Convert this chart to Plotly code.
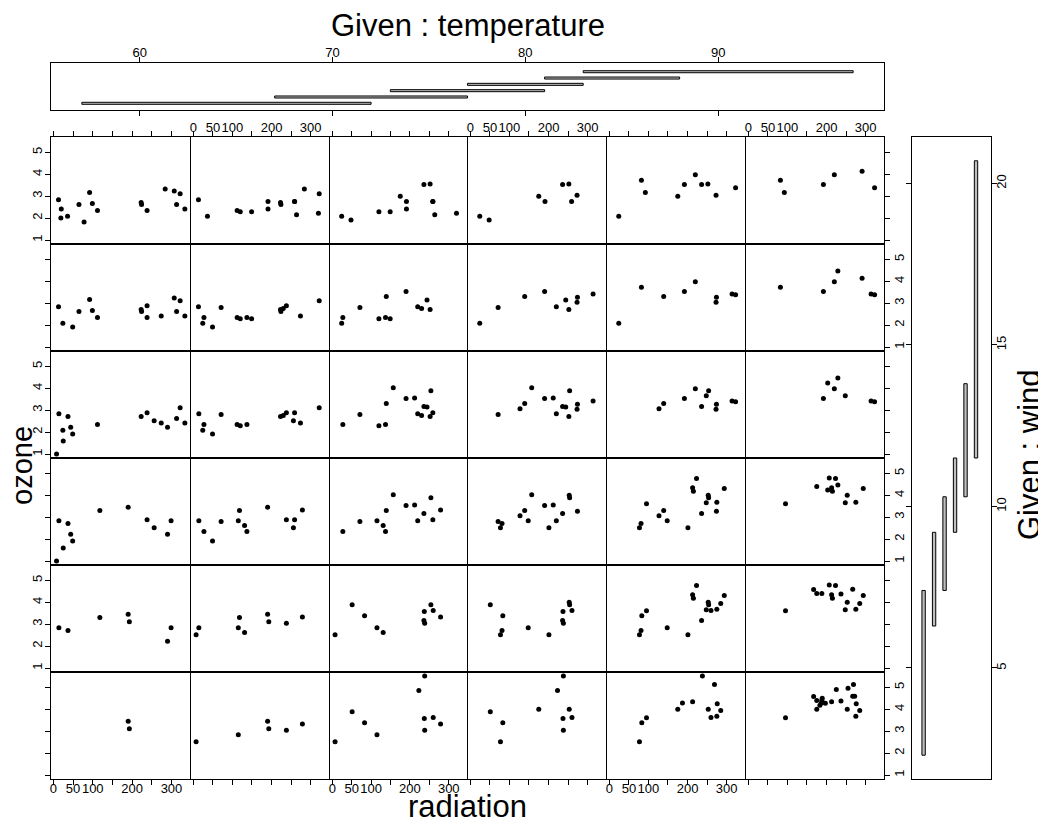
import plotly.graph_objects as go

# ---- data (environmental: radiation, cube-root ozone, temperature, wind) ----
radiation = [190, 118, 149, 313, 299, 99, 19, 256, 290, 274, 65, 334, 307, 78, 322, 44, 8, 320, 25, 92,
             13, 252, 223, 279, 127, 291, 323, 148, 191, 284, 37, 120, 137, 269, 248, 236, 175, 314, 276, 267,
             272, 175, 264, 175, 48, 260, 274, 285, 187, 220, 7, 294, 223, 81, 82, 213, 275, 253, 254, 83,
             24, 77, 255, 229, 207, 192, 273, 157, 71, 51, 115, 244, 190, 259, 36, 212, 238, 215, 203, 225,
             237, 188, 167, 197, 183, 189, 95, 92, 252, 220, 230, 259, 236, 259, 238, 24, 112, 237, 224, 27,
             238, 201, 238, 14, 139, 49, 20, 193, 191, 131, 223]
ozone = [3.45, 3.30, 2.29, 2.62, 2.84, 2.67, 2.00, 2.52, 2.22, 2.41, 2.62, 2.41, 3.24, 1.82, 3.11, 2.22, 1.00, 2.22, 1.59, 3.17,
         2.84, 3.56, 4.86, 3.33, 3.07, 4.14, 3.39, 2.84, 2.76, 3.33, 2.71, 2.29, 2.35, 5.13, 3.66, 3.17, 4.00, 3.42, 4.25, 4.59,
         4.59, 4.40, 2.15, 3.00, 1.91, 3.63, 3.27, 3.94, 4.29, 3.98, 2.52, 4.31, 4.76, 2.71, 3.73, 4.34, 3.68, 4.00, 3.89, 3.39,
         2.08, 2.52, 4.96, 4.47, 4.79, 3.53, 3.04, 4.02, 2.80, 3.89, 2.84, 3.14, 3.53, 2.76, 2.08, 3.56, 5.52, 4.18, 4.24, 4.90,
         4.38, 4.40, 4.58, 4.27, 4.18, 4.50, 3.61, 3.17, 2.71, 2.84, 2.76, 2.88, 3.53, 2.76, 3.04, 2.08, 2.35, 3.58, 2.62, 2.35,
         2.88, 2.52, 2.35, 2.84, 3.30, 1.91, 2.41, 3.11, 2.41, 2.62, 2.71]
temperature = [67, 72, 74, 62, 65, 59, 61, 69, 66, 68, 58, 64, 66, 57, 68, 62, 59, 73, 61, 61,
               67, 81, 79, 76, 82, 90, 87, 82, 77, 72, 65, 73, 76, 84, 85, 81, 83, 83, 88, 92,
               92, 89, 73, 81, 80, 81, 82, 84, 87, 85, 74, 86, 85, 82, 86, 88, 86, 83, 81, 81,
               81, 82, 89, 90, 90, 86, 82, 80, 77, 79, 76, 78, 78, 77, 72, 79, 81, 86, 97, 94,
               96, 94, 91, 92, 93, 93, 87, 84, 80, 78, 75, 73, 81, 76, 77, 71, 71, 78, 67, 76,
               68, 82, 64, 71, 81, 69, 63, 70, 75, 76, 68]
wind = [7.4, 8.0, 12.6, 11.5, 8.6, 13.8, 20.1, 9.7, 9.2, 10.9, 13.2, 11.5, 12.0, 18.4, 11.5, 9.7, 9.7, 16.6, 9.7, 12.0,
        12.0, 14.9, 5.7, 7.4, 9.7, 13.8, 11.5, 8.0, 14.9, 20.7, 9.2, 11.5, 10.3, 4.1, 9.2, 9.2, 4.6, 10.9, 5.1, 6.3,
        5.7, 7.4, 14.3, 14.9, 14.3, 6.9, 10.3, 6.3, 5.1, 11.5, 6.9, 8.6, 8.0, 8.6, 12.0, 7.4, 7.4, 7.4, 9.2, 6.9,
        13.8, 7.4, 4.0, 10.3, 8.0, 11.5, 11.5, 9.7, 10.3, 6.3, 7.4, 10.9, 10.3, 15.5, 14.3, 9.7, 3.4, 8.0, 9.7, 2.3,
        6.3, 6.3, 6.9, 5.1, 2.8, 4.6, 7.4, 15.5, 10.9, 10.3, 10.9, 9.7, 14.9, 15.5, 6.3, 10.9, 11.5, 6.9, 13.8, 10.3,
        10.3, 8.0, 12.6, 9.2, 10.3, 10.3, 16.6, 6.9, 14.3, 8.0, 11.5]

# given intervals (co.intervals, 6 intervals, overlap 0.5)
temp_lo = [57, 67, 73, 77, 81, 83]
temp_hi = [72, 77, 81, 83, 88, 97]
wind_lo = [2.3, 6.3, 7.4, 9.2, 10.3, 11.5]
wind_hi = [7.4, 9.2, 10.3, 11.5, 13.8, 20.7]

rad_ticks = [0, 50, 100, 150, 200, 250, 300]
rad_labels = ["0", "50", "100", "", "200", "", "300"]
oz_ticks = [1, 2, 3, 4, 5]
temp_ticks = [60, 70, 80, 90]
wind_ticks = [5, 10, 15, 20]

# ---- layout geometry (pixels in the 1046x824 window) ----
OFF = 8                       # default page body margin
W, H = 1046 - OFF, 824 - OFF  # figure size
FONT = "Liberation Sans, Arial, Helvetica, sans-serif"
COL_EDGES = [51, 190, 329, 467, 606, 745, 884]
ROW_EDGES = [137, 244, 351, 458, 565, 672, 779]


def px(x):
    return (x - OFF) / W


def py(y):
    return 1 - (y - OFF) / H


fig = go.Figure()
layout = dict(width=W, height=H, margin=dict(l=0, r=0, t=0, b=0, pad=0), autosize=False,
              paper_bgcolor="white", plot_bgcolor="white", showlegend=False,
              font=dict(family=FONT, size=13, color="black"))

tickfont = dict(family=FONT, size=13, color="black")
line_common = dict(showline=True, linecolor="black", linewidth=1, showgrid=False,
                   zeroline=False, fixedrange=True)

k = 0
for r in range(6):          # r = 0 is top row (highest wind interval)
    wi = 5 - r
    for c in range(6):      # c = 0 is leftmost column (lowest temperature)
        k += 1
        xs, ys = [], []
        for rad, oz, t, w in zip(radiation, ozone, temperature, wind):
            if temp_lo[c] <= t <= temp_hi[c] and wind_lo[wi] <= w <= wind_hi[wi]:
                xs.append(rad)
                ys.append(oz)
        fig.add_trace(go.Scatter(x=xs, y=ys, mode="markers", xaxis=f"x{k}", yaxis=f"y{k}",
                                 marker=dict(size=5, color="black"), hoverinfo="skip"))
        x0 = COL_EDGES[c] + (1 if c > 0 else 0)
        x1 = COL_EDGES[c + 1]
        y0 = ROW_EDGES[r]
        y1 = ROW_EDGES[r + 1]
        xa = dict(domain=[px(x0), px(x1)], range=[-6.08, 347.08], anchor=f"y{k}",
                  mirror=True, **line_common)
        ya = dict(domain=[py(y1), py(y0)], range=[0.819, 5.70], anchor=f"x{k}",
                  mirror=True, **line_common)
        if r == 5 or r == 0:
            xa.update(side="bottom" if r == 5 else "top", ticks="outside", ticklen=5,
                      tickcolor="black", tickvals=rad_ticks, ticktext=rad_labels, tickangle=0,
                      tickfont=tickfont, ticklabelstandoff=-8 if r == 5 else -6,
                      showticklabels=(c % 2 == 0) if r == 5 else (c % 2 == 1))
        else:
            xa.update(ticks="", showticklabels=False)
        if c == 0 or c == 5:
            ya.update(side="left" if c == 0 else "right", ticks="outside", ticklen=5,
                      tickcolor="black", tickvals=oz_ticks, tickangle=-90, tickfont=tickfont,
                      ticklabelstandoff=-2,
                      showticklabels=(r % 2 == 0) if c == 0 else (r % 2 == 1))
        else:
            ya.update(ticks="", showticklabels=False)
        layout[f"xaxis{k}"] = xa
        layout[f"yaxis{k}"] = ya

# ---- given: temperature panel (top) ----
k += 1
kt = k
fig.add_trace(go.Bar(orientation="h", y=list(range(1, 7)),
                     x=[hi - lo for lo, hi in zip(temp_lo, temp_hi)], base=temp_lo,
                     width=0.32, xaxis=f"x{kt}", yaxis=f"y{kt}",
                     marker=dict(color="#bebebe", line=dict(color="black", width=1)),
                     hoverinfo="skip"))
layout[f"xaxis{kt}"] = dict(domain=[px(51), px(884)], range=[55.4, 98.6],
                            anchor=f"y{kt}", side="top", ticks="outside", ticklen=5,
                            tickcolor="black", tickvals=temp_ticks, tickangle=0,
                            tickfont=tickfont, ticklabelstandoff=-5, mirror="ticks",
                            **line_common)
layout[f"yaxis{kt}"] = dict(domain=[py(110), py(63)], range=[-0.06, 7.38], anchor=f"x{kt}",
                            ticks="", showticklabels=False, mirror=True, **line_common)

# ---- given: wind panel (right) ----
k += 1
kw = k
fig.add_trace(go.Bar(x=list(range(1, 7)),
                     y=[hi - lo for lo, hi in zip(wind_lo, wind_hi)], base=wind_lo,
                     width=0.32, xaxis=f"x{kw}", yaxis=f"y{kw}",
                     marker=dict(color="#bebebe", line=dict(color="black", width=1)),
                     hoverinfo="skip"))
layout[f"xaxis{kw}"] = dict(domain=[px(912), px(991)], range=[-0.107, 7.43],
                            anchor=f"y{kw}", ticks="", showticklabels=False, mirror=True,
                            **line_common)
layout[f"yaxis{kw}"] = dict(domain=[py(ROW_EDGES[-1]), py(ROW_EDGES[0])],
                            range=[1.564, 21.436], anchor=f"x{kw}", side="right",
                            ticks="outside", ticklen=5, tickcolor="black", tickvals=wind_ticks,
                            tickangle=-90, tickfont=tickfont, ticklabelstandoff=-7,
                            mirror="ticks", **line_common)

# ---- titles ----
layout["annotations"] = [
    dict(text="Given : temperature", x=px(467.5), y=py(25), xref="paper", yref="paper",
         xanchor="center", yanchor="middle", showarrow=False,
         font=dict(family=FONT, size=31, color="black")),
    dict(text="radiation", x=px(467.5), y=py(806), xref="paper", yref="paper",
         xanchor="center", yanchor="middle", showarrow=False,
         font=dict(family=FONT, size=31, color="black")),
    dict(text="ozone", x=px(22), y=py(466), xref="paper", yref="paper", textangle=-90,
         xanchor="center", yanchor="middle", showarrow=False,
         font=dict(family=FONT, size=29, color="black")),
    dict(text="Given : wind", x=px(1029), y=py(455), xref="paper", yref="paper", textangle=-90,
         xanchor="center", yanchor="middle", showarrow=False,
         font=dict(family=FONT, size=31, color="black")),
]

fig.update_layout(**layout)
fig.write_html("out.html")
